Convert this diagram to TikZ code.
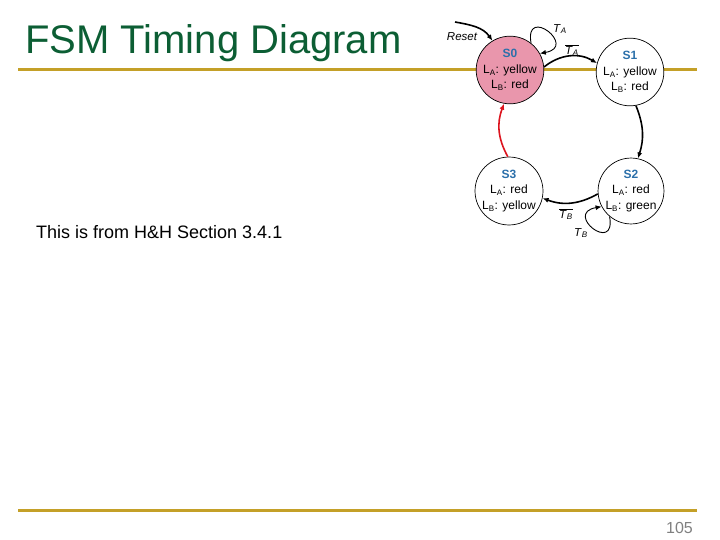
\documentclass[tikz,border=0pt]{standalone}
\usepackage{fontspec}
\setmainfont{Liberation Sans}
\usepackage{tikz}
\usetikzlibrary{arrows.meta}
\definecolor{titlegreen}{RGB}{12,94,52}
\definecolor{rulegold}{RGB}{196,160,40}
\definecolor{statepink}{RGB}{233,150,172}
\definecolor{stateblue}{RGB}{44,112,170}
\definecolor{backred}{RGB}{220,20,30}
\newcommand{\lampA}{L\textsubscript{A}}
\newcommand{\lampB}{L\textsubscript{B}}
\newcommand{\tsig}[1]{\textit{T}\textsubscript{\textit{#1}}}
\newcommand{\ntsig}[1]{$\overline{\mbox{\tsig{#1}}}$}
\newcommand{\sname}[1]{\textcolor{stateblue}{\textbf{#1}}}

\begin{document}
\begin{tikzpicture}[
    x=1pt, y=1pt,
    state/.style={circle,draw,line width=0.7pt,minimum size=64pt,inner sep=0pt,
      align=center,font=\fontsize{12}{15.5}\selectfont},
    trans/.style={line width=1.6pt,-{Latex[length=6pt,width=5pt]}},
    selfloop/.style={line width=0.9pt,-{Latex[length=6pt,width=5pt]}},
    lbl/.style={inner sep=0pt,font=\fontsize{11.5}{13}\selectfont}
    ]
    \useasboundingbox (0,0) rectangle (720,-540);
    \draw[rulegold,line width=3pt] (18,-70) -- (697,-70);
    \draw[rulegold,line width=3pt] (18,-510) -- (697,-510);
    \node[anchor=base west,inner sep=0pt,text=titlegreen,font=\fontsize{40}{44}\selectfont] (title) at (25,-54) {FSM Timing Diagram};
    \node[anchor=base west,inner sep=0pt,font=\fontsize{18}{22}\selectfont] (note) at (36,-238) {This is from H\&H Section 3.4.1};
    \node[anchor=base east,inner sep=0pt,text=gray,font=\fontsize{16}{18}\selectfont] (page) at (693,-533) {105};
    \node[state,fill=statepink] (s0) at (510,-70) {\sname{S0}\\\lampA: yellow\\\lampB: red};
    \node[state,fill=white] (s1) at (630,-72) {\sname{S1}\\\lampA: yellow\\\lampB: red};
    \node[state,fill=white] (s2) at (631,-191) {\sname{S2}\\\lampA: red\\\lampB: green};
    \node[state,fill=white] (s3) at (509,-191) {\sname{S3}\\\lampA: red\\\lampB: yellow};
    \coordinate (rst) at (455,-22);
    \draw[trans] (rst) to[out=-10,in=125] (s0.121);
    \node[lbl,font=\fontsize{11.5}{13}\selectfont\itshape] (rstlbl) at (462,-37) {Reset};
    \draw[selfloop] (s0.52) .. controls +(100:39) and +(10:39) .. (s0.29);
    \node[lbl] (ta) at (560,-29) {\tsig{A}};
    \draw[trans] (s0.5) to[bend left=35] (s1.165);
    \node[lbl] (nta) at (572,-50) {\ntsig{A}};
    \draw[trans] (s1.-80) to[bend left=20] (s2.78);
    \draw[trans] (s2.185) to[bend left=25] (s3.-12);
    \node[lbl] (ntb) at (566,-214) {\ntsig{B}};
    \draw[selfloop] (s2.230) .. controls +(280:39) and +(190:39) .. (s2.208);
    \node[lbl] (tb) at (581,-233) {\tsig{B}};
    \draw[trans,backred] (s3.92) to[bend left=25] (s0.260);
  \end{tikzpicture}
\end{document}
